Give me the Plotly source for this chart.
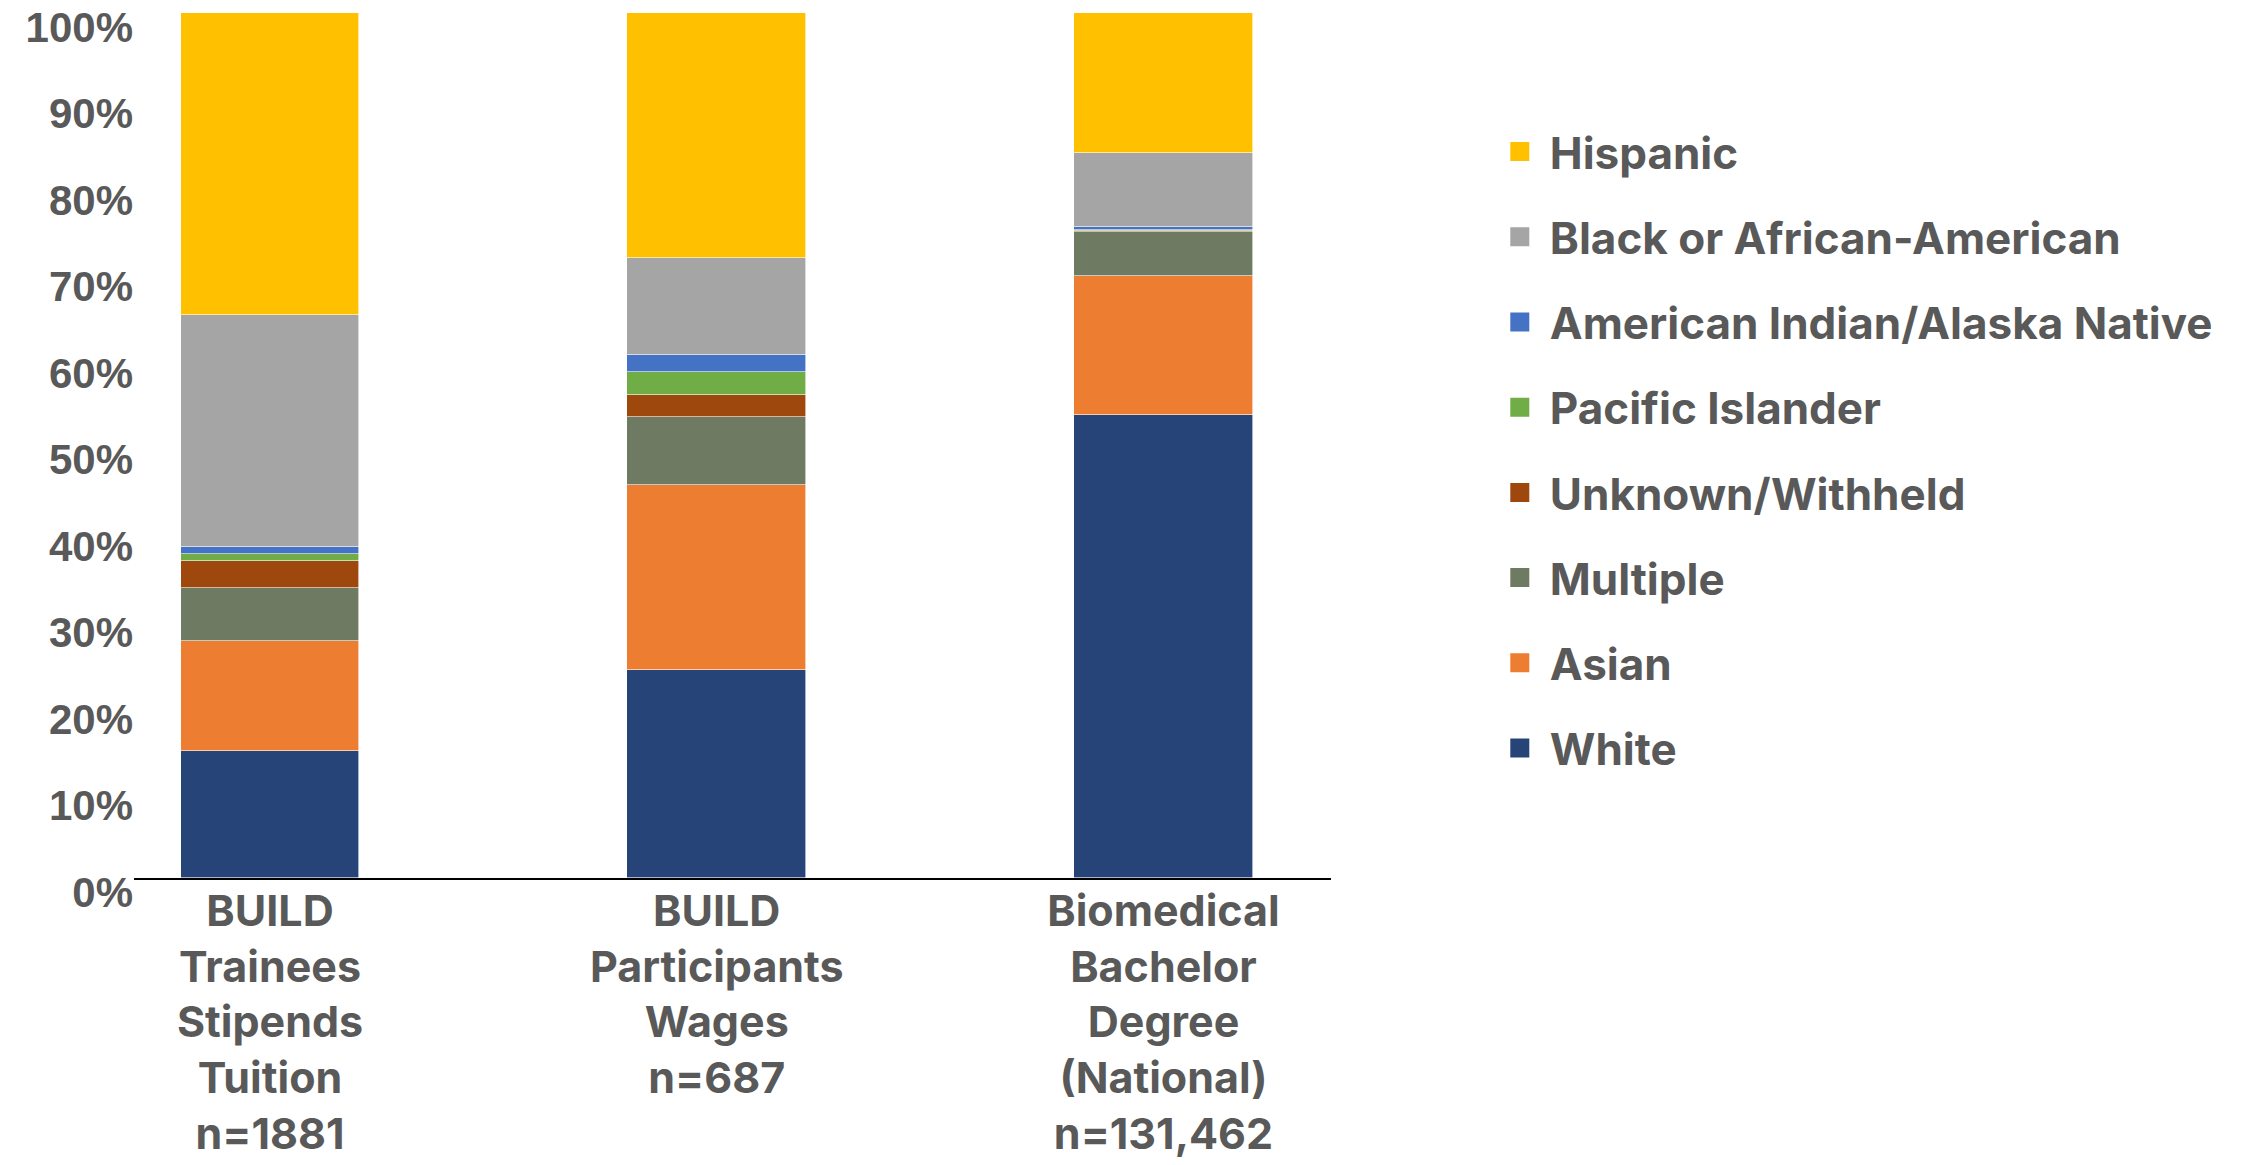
import plotly.graph_objects as go

# Stacked share of each race/ethnicity group (percent of total)
categories = [
    "BUILD<br>Trainees<br>Stipends<br>Tuition<br>n=1881",
    "BUILD<br>Participants<br>Wages<br>n=687",
    "Biomedical<br>Bachelor<br>Degree<br>(National)<br>n=131,462",
]

white = [14.7, 24.1, 53.5]
asian = [12.7, 21.3, 16.1]
multiple = [6.1, 7.9, 5.1]
unknown_withheld = [3.1, 2.5, 0.1]
pacific_islander = [0.9, 2.7, 0.1]
american_indian = [0.8, 2.0, 0.4]
black = [26.8, 11.2, 8.5]
hispanic = [34.9, 28.3, 16.2]

series = [
    ("White", white, "#264478"),
    ("Asian", asian, "#ED7D31"),
    ("Multiple", multiple, "#6E7B62"),
    ("Unknown/Withheld", unknown_withheld, "#9E480E"),
    ("Pacific Islander", pacific_islander, "#70AD47"),
    ("American Indian/Alaska Native", american_indian, "#4472C4"),
    ("Black or African-American", black, "#A5A5A5"),
    ("Hispanic", hispanic, "#FFC000"),
]

TEXT = "#595959"
fig = go.Figure()

xs = [0, 1, 2]
for name, vals, color in series:
    fig.add_trace(go.Bar(
        x=xs, y=vals, name=name, width=0.4,
        marker=dict(color=color, line=dict(color="white", width=0.6)),
        showlegend=False,
    ))

# Legend entries with larger square swatches, Hispanic listed first
for name, vals, color in reversed(series):
    fig.add_trace(go.Scatter(
        x=[None], y=[None], mode="markers", name=name, legendgroup=name,
        marker=dict(symbol="square", size=16, color=color,
                    line=dict(color=color, width=3)),
        showlegend=True,
    ))

fig.update_layout(
    barmode="stack",
    width=2243, height=1165,
    margin=dict(l=134, r=912, t=13, b=287),
    paper_bgcolor="white", plot_bgcolor="white",
    bargap=0,
    legend=dict(
        xref="container", yref="container",
        x=0.6642, y=0.900, xanchor="left", yanchor="top",
        font=dict(family="Inter", size=44, color=TEXT, weight="bold"),
        tracegroupgap=25, itemwidth=50,
        traceorder="grouped",
        maxheight=1000,
    ),
)

fig.update_xaxes(
    tickmode="array", tickvals=xs, ticktext=categories,
    range=[-0.3045, 2.375],
    showline=True, linecolor="black", linewidth=2,
    showgrid=False, ticks="", zeroline=False,
    automargin=False,
    ticklabelstandoff=-6,
    tickfont=dict(family="Inter", size=43, color=TEXT, weight="bold"),
)

fig.update_yaxes(
    range=[0, 100], tick0=0, dtick=10, ticksuffix="%",
    showgrid=False, showline=False, zeroline=False, ticks="",
    automargin=False,
    ticklabelshift=14,
    tickfont=dict(family="Liberation Sans", size=42, color=TEXT, weight="bold"),
)

fig.write_html("out.html")
